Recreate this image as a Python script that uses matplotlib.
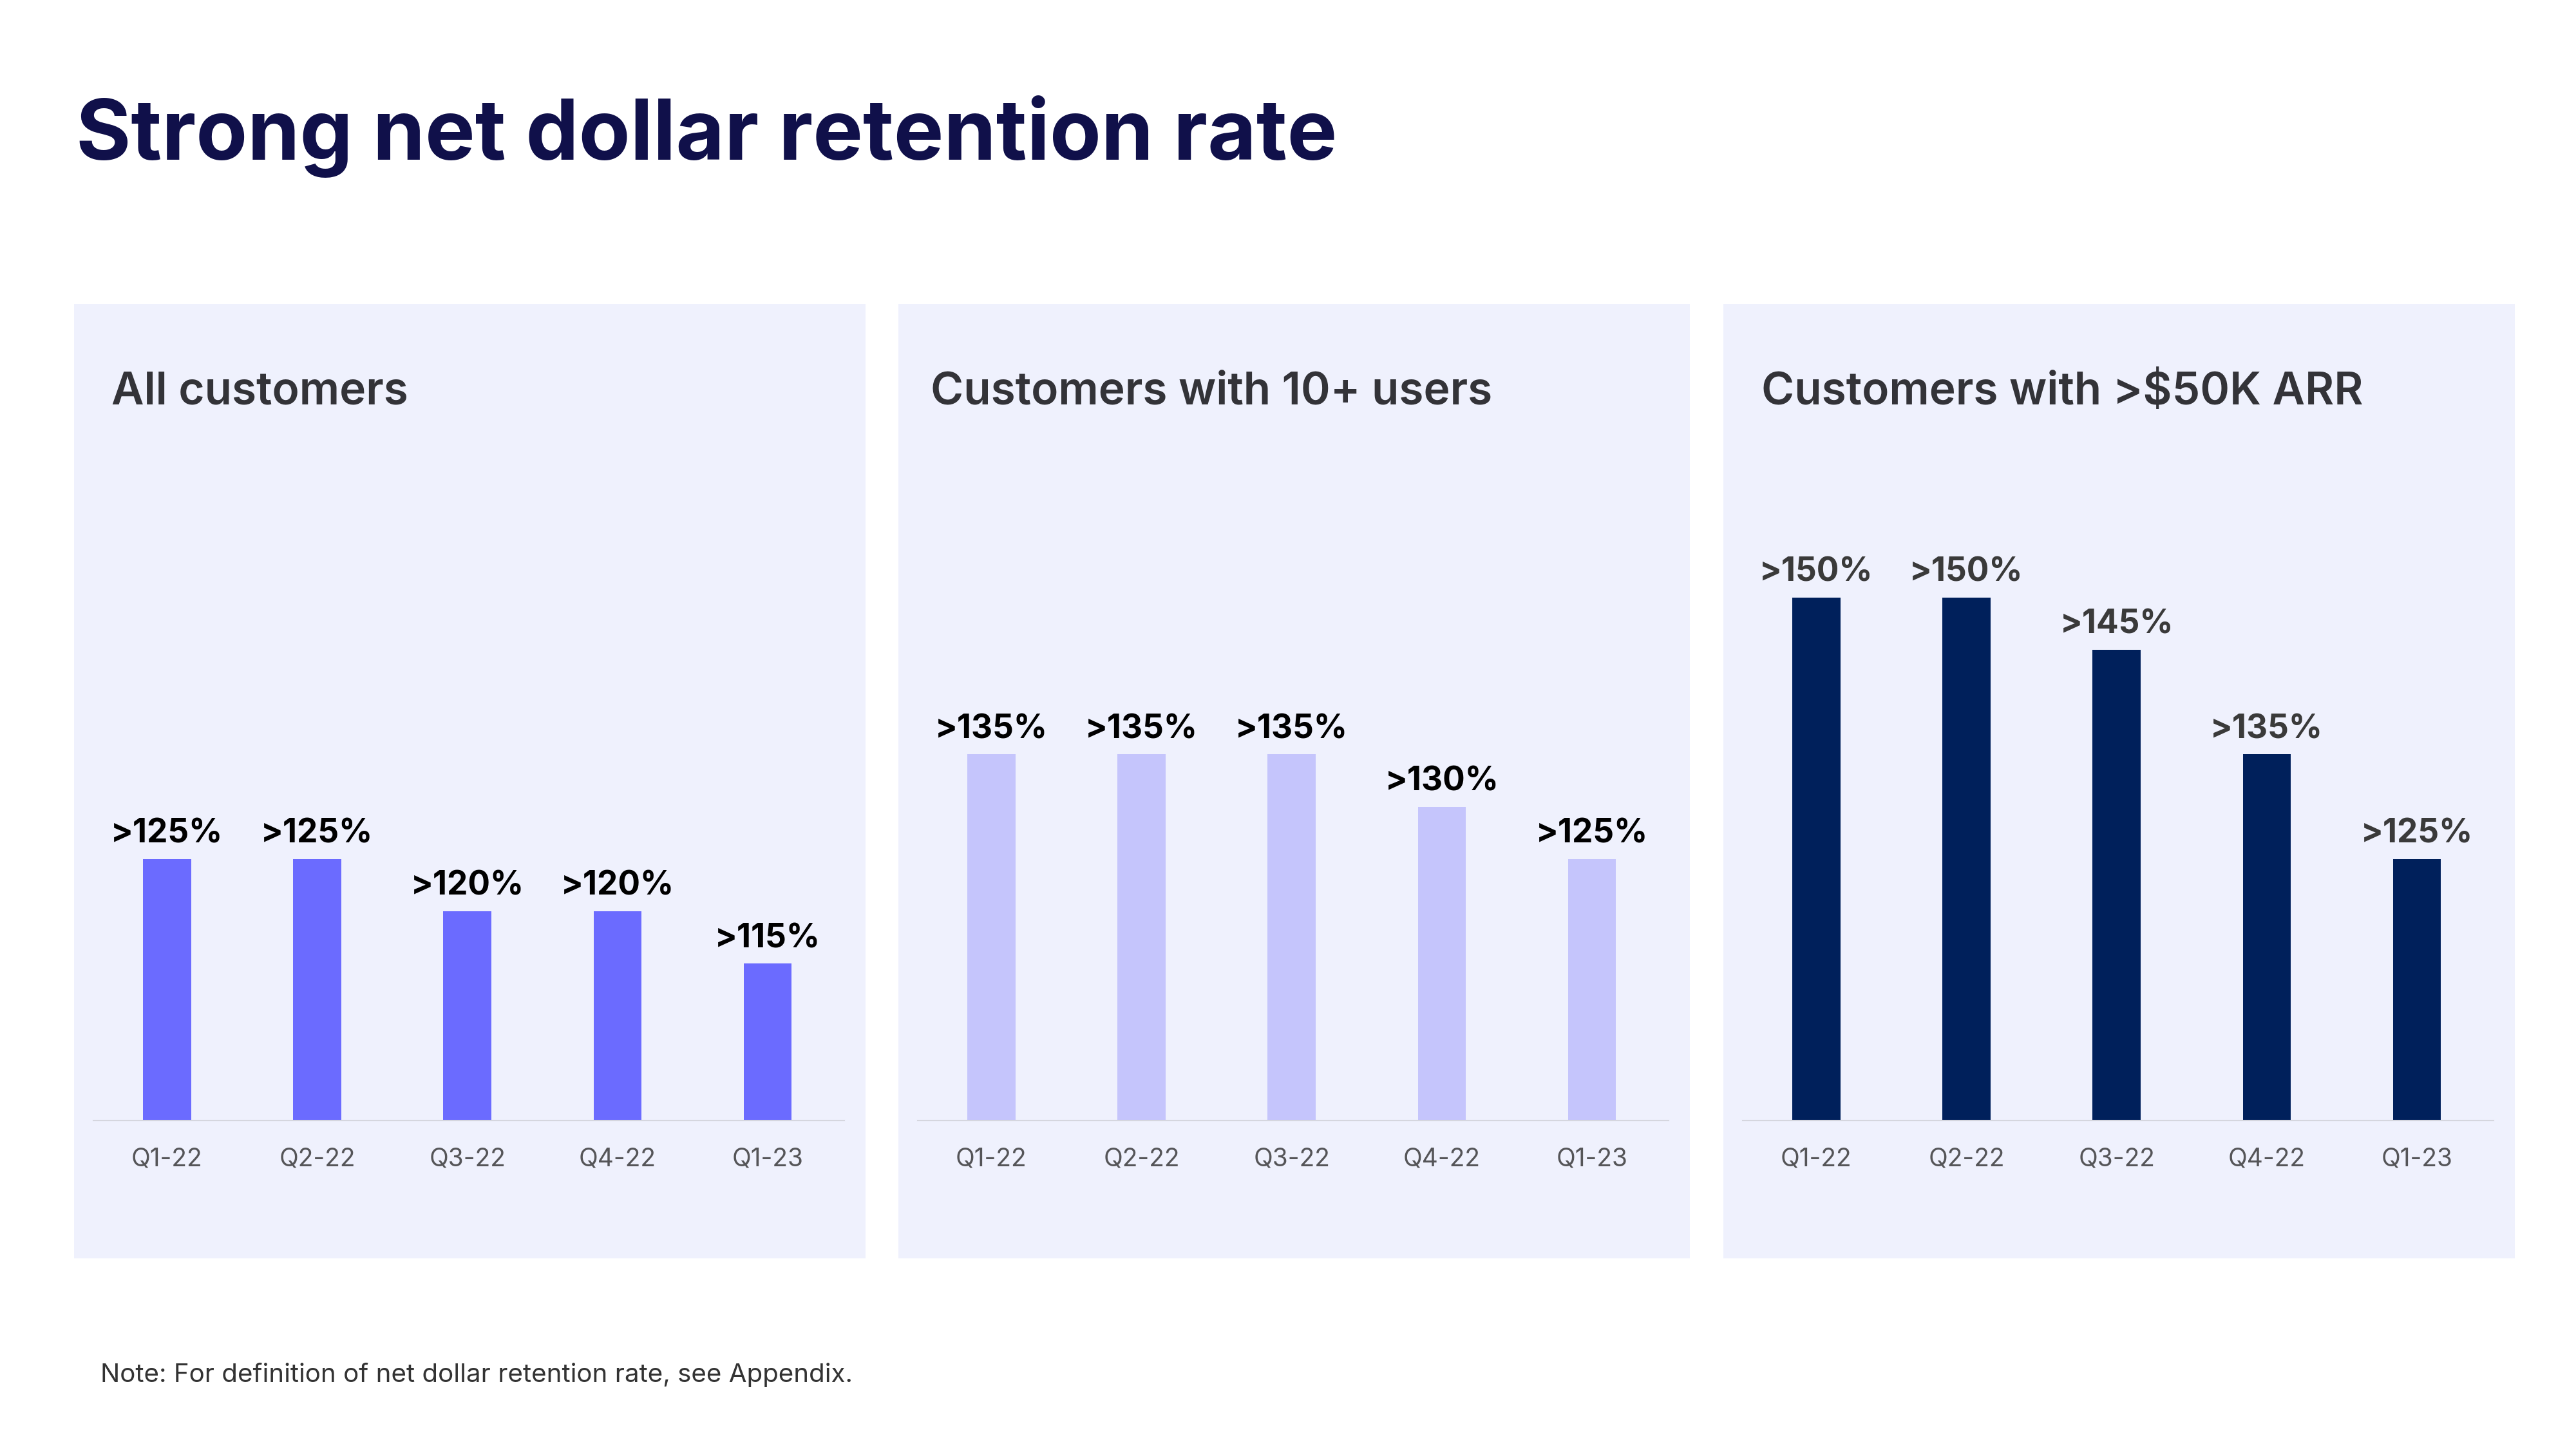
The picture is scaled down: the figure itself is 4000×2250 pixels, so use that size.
import matplotlib
matplotlib.use("Agg")
import matplotlib.pyplot as plt
from matplotlib.patches import Rectangle

# ---- data ----
quarters = ["Q1-22", "Q2-22", "Q3-22", "Q4-22", "Q1-23"]
panel_titles = ["All customers", "Customers with 10+ users", "Customers with >$50K ARR"]
all_customers = [125, 125, 120, 120, 115]
users_10plus = [135, 135, 135, 130, 125]
arr_50k = [150, 150, 145, 135, 125]
series = [all_customers, users_10plus, arr_50k]

# ---- styles ----
bar_colors = ["#6b6bff", "#c5c5fc", "#00205b"]
label_colors = ["#000000", "#000000", "#3a3a3a"]
panel_bg = "#eff1fd"
FONT = ["Inter", "DejaVu Sans"]

W, H = 4000, 2250
fig = plt.figure(figsize=(40, 22.5), dpi=100)
fig.patch.set_facecolor("white")


def fx(px):
    return px / W


def fy(py):
    return 1 - py / H


fig.text(fx(118), fy(248), "Strong net dollar retention rate", fontsize=94,
         fontweight="bold", color="#10104a", family=FONT, va="baseline", ha="left")

panel_lefts = [115, 1395, 2676]
title_offsets = [58, 50, 59]
panel_w = 1229
panel_top, panel_bot = 472, 1954
ymin, ymax = 100, 160
base_y = 1740
px_per_unit = 16.25
ax_top = base_y - (ymax - ymin) * px_per_unit

for i, (pl, vals) in enumerate(zip(panel_lefts, series)):
    fig.patches.append(Rectangle((fx(pl), fy(panel_bot)), panel_w / W,
                                 (panel_bot - panel_top) / H, transform=fig.transFigure,
                                 facecolor=panel_bg, edgecolor="none", zorder=-5))
    fig.text(fx(pl + title_offsets[i]), fy(628), panel_titles[i], fontsize=50,
             fontweight="semibold", color="#333338", family=FONT, va="baseline", ha="left")

    ax = fig.add_axes([fx(pl + 30), fy(base_y), 1166 / W, (base_y - ax_top) / H])
    ax.set_zorder(5)
    ax.set_facecolor("none")
    xs = list(range(len(quarters)))
    ax.bar(xs, vals, width=0.32, color=bar_colors[i], zorder=2)
    ax.set_ylim(ymin, ymax)
    ax.set_xlim(-0.49, len(quarters) - 0.49)
    for x, v in zip(xs, vals):
        ax.annotate(f">{v}%", (x, v), xytext=(0, 18), textcoords="offset points",
                    ha="center", va="baseline", fontsize=37, fontweight="bold",
                    color=label_colors[i], family=FONT)
    ax.set_xticks(xs)
    ax.set_xticklabels(quarters, fontsize=28, color="#555558", family=FONT)
    ax.tick_params(axis="x", length=0, pad=30)
    ax.set_yticks([])
    for s in ["top", "left", "right"]:
        ax.spines[s].set_visible(False)
    ax.spines["bottom"].set_color("#d5d6de")
    ax.spines["bottom"].set_linewidth(1.5)

fig.text(fx(156), fy(2146), "Note: For definition of net dollar retention rate, see Appendix.",
         fontsize=29, color="#333333", family=FONT, va="baseline", ha="left")

fig.savefig("out.png", dpi=100, facecolor="white")
